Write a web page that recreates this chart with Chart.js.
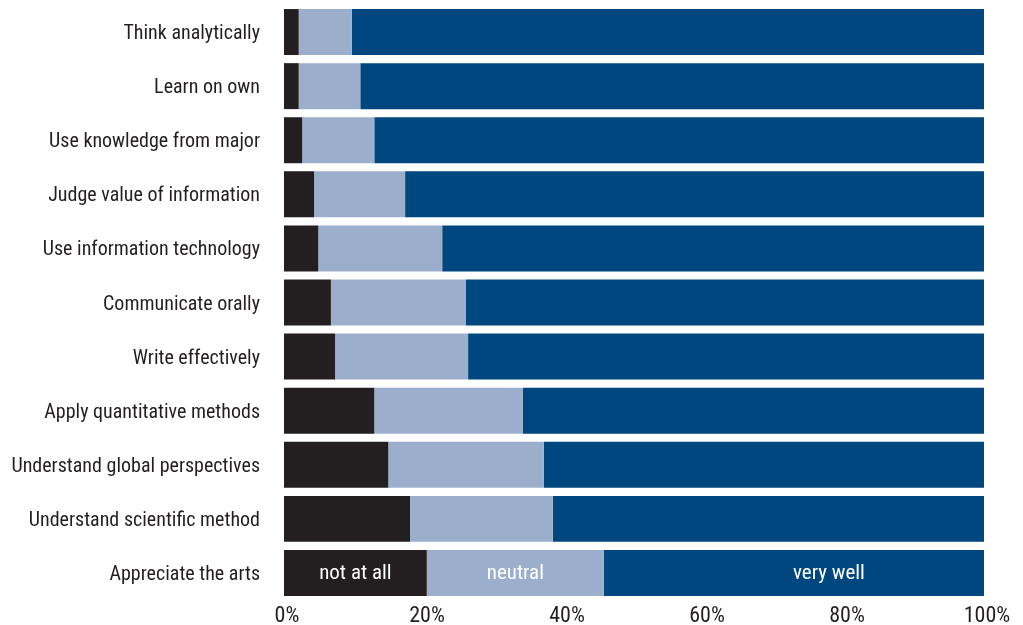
<!DOCTYPE html>
<html>
<head>
<meta charset="utf-8">
<script src="https://cdn.jsdelivr.net/npm/chart.js@4/dist/chart.umd.min.js"></script>
<style>
  html, body { margin: 0; padding: 0; background: #ffffff; }
  #wrap { width: 1023px; height: 625px; }
</style>
</head>
<body>
<div id="wrap"><canvas id="chart" width="1023" height="625"></canvas></div>
<script>
// Skills, top to bottom
const categories = [
  'Think analytically',
  'Learn on own',
  'Use knowledge from major',
  'Judge value of information',
  'Use information technology',
  'Communicate orally',
  'Write effectively',
  'Apply quantitative methods',
  'Understand global perspectives',
  'Understand scientific method',
  'Appreciate the arts'
];

// Share of responses (%) per rating
const notAtAll = [2.1, 2.1, 2.6, 4.3, 4.9, 6.7, 7.3, 12.9, 14.9, 18.0, 20.4];
const neutral  = [7.6, 8.8, 10.3, 13.0, 17.7, 19.3, 19.0, 21.2, 22.2, 20.4, 25.3];
const veryWell = [90.3, 89.1, 87.1, 82.7, 77.4, 74.0, 73.7, 65.9, 62.9, 61.6, 54.3];

const seriesNames = ['not at all', 'neutral', 'very well'];
const xTicks = [0, 20, 40, 60, 80, 100];

const FONT = "'Liberation Sans Narrow', 'Roboto Condensed', 'DejaVu Sans Condensed', sans-serif";
const TEXT = '#231f20';

// Names of the ratings, written inside the segments of the last bar
const segmentNames = {
  id: 'segmentNames',
  afterDatasetsDraw(chart) {
    const ctx = chart.ctx;
    const last = categories.length - 1;
    const shift = [0, 0, 35];
    ctx.save();
    ctx.font = '21px ' + FONT;
    ctx.fillStyle = '#ffffff';
    ctx.textAlign = 'center';
    ctx.textBaseline = 'middle';
    chart.data.datasets.forEach((ds, i) => {
      const el = chart.getDatasetMeta(i).data[last];
      const cx = (el.x + el.base) / 2 + shift[i];
      ctx.fillText(seriesNames[i], cx, el.y + 1);
    });
    ctx.restore();
  }
};

new Chart(document.getElementById('chart'), {
  type: 'bar',
  data: {
    labels: categories,
    datasets: [
      { label: seriesNames[0], data: notAtAll, backgroundColor: '#231f20' },
      { label: seriesNames[1], data: neutral,  backgroundColor: '#9bafcd' },
      { label: seriesNames[2], data: veryWell, backgroundColor: '#00467f' }
    ]
  },
  options: {
    indexAxis: 'y',
    responsive: false,
    animation: false,
    layout: { autoPadding: false, padding: { top: 5, right: 39, left: 0, bottom: 0 } },
    datasets: {
      bar: { categoryPercentage: 1.0, barPercentage: 0.85, borderWidth: 0 }
    },
    plugins: {
      legend: { display: false },
      title: { display: false },
      tooltip: { enabled: false }
    },
    scales: {
      x: {
        stacked: true,
        min: 0,
        max: 100,
        afterFit(scale) { scale.height = 25; scale.paddingLeft = 0; scale.paddingRight = 0; },
        afterBuildTicks(scale) { scale.ticks = xTicks.map(v => ({ value: v })); },
        grid: { display: false, drawTicks: false },
        border: { display: false },
        ticks: {
          padding: 5,
          labelOffset: 3,
          color: TEXT,
          font: { family: FONT, size: 22, lineHeight: 1 },
          maxRotation: 0,
          callback: v => v + '%'
        }
      },
      y: {
        stacked: true,
        afterFit(scale) { scale.width = 284; scale.paddingTop = 0; scale.paddingBottom = 0; },
        grid: { display: false, drawTicks: false },
        border: { display: false },
        ticks: {
          padding: 24,
          labelOffset: 2,
          color: TEXT,
          font: { family: FONT, size: 20 },
          autoSkip: false
        }
      }
    }
  },
  plugins: [segmentNames]
});
</script>
</body>
</html>
